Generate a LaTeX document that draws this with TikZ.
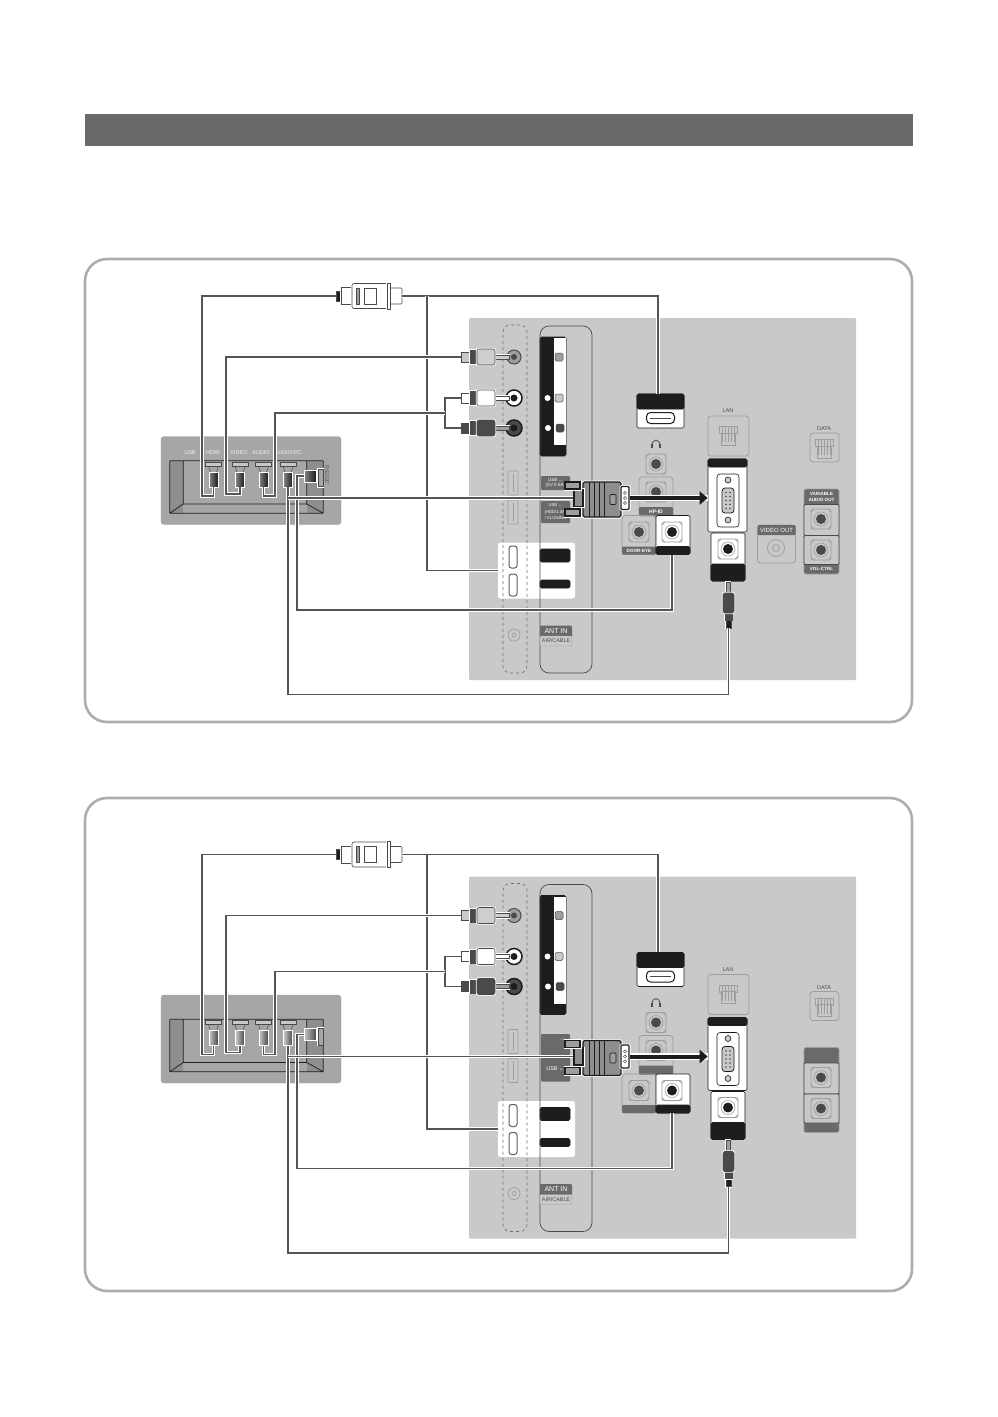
\documentclass[tikz,border=0pt]{standalone}
\usepackage{fontspec}
\setmainfont{Liberation Sans}
\usetikzlibrary{arrows.meta,positioning,calc}
\definecolor{barfill}{HTML}{6B6868}
\definecolor{frameline}{HTML}{ADADAD}
\definecolor{backfill}{HTML}{C9C9C9}
\definecolor{tvfill}{HTML}{A6A6A6}
\definecolor{tvside}{HTML}{8E8E8E}
\definecolor{inkgray}{HTML}{4A4A4A}
\definecolor{wirecol}{HTML}{555555}
\definecolor{stripcol}{HTML}{6A6A6A}
\definecolor{softline}{HTML}{9E9E9E}
\definecolor{inkblack}{HTML}{1E1C1C}

% one square socket with its four corner cuts
\newcommand{\sqjack}[5]{%
  \node[jackbase, fill=#4] (#1) at (#2,#3) {};
  \foreach \dx/\dy in {-1/-1,1/-1,-1/1,1/1}
    \draw[softline, line width=0.7pt] ($(#1)+(7*\dx,10*\dy)$) -- ($(#1)+(10*\dx,7*\dy)$);
  \node[jackring, fill=#4] (#1-ring) at (#1) {};
  \node[jackhole, fill=#5] (#1-hole) at (#1) {};
}
% network socket glyph
\newcommand{\rjglyph}[3]{%
  \node[rjtop] (#1) at (#2,#3) {};
  \node[rjfoot] (#1-foot) at ($(#1)+(0,9)$) {};
  \foreach \dx in {-6,-3,0,3,6}
    \draw[softline, line width=0.7pt] ($(#1)+(\dx,-3)$) -- ($(#1)+(\dx,12)$);
}
% one coloured cinch plug, running in from the left
\newcommand{\cinchplug}[5]{%
  \node[plugpart, fill=#5, minimum width=14, minimum height=4] (#1-pin) at (502,#2) {};
  \node[plugpart, fill=#3, minimum width=9, minimum height=10] (#1-tip) at (465.5,#2) {};
  \node[plugpart, fill=inkgray, minimum width=7, minimum height=13] (#1-band) at (473.5,#2) {};
  \node[plugpart, fill=#4, rounded corners=2, minimum width=18, minimum height=16] (#1) at (486,#2) {};
}
% the plug standing in one socket of the set
\newcommand{\setplug}[2]{%
  \node[barpart] (#1-bar) at (#2,464) {};
  \draw[inkgray, line width=0.5pt] ($(#1-bar.south)+(-5,0)$) -- ($(#2,472)+(-3,0)$)
    ($(#1-bar.south)+(5,0)$) -- ($(#2,472)+(3,0)$);
  \node[setplugbody] (#1) at (#2,479.5) {};
}

% --- sockets, boxes and everything under the cables ------------------------------------------
\newcommand{\rearports}{%
  \node[backpanel] (back) at (662.5,499) {};

  % the side jacks
  \node[circle, draw=inkgray, fill=softline, minimum size=14, inner sep=0, line width=1pt] (jackA) at (514,357) {};
  \node[circle, fill=inkgray, minimum size=6, inner sep=0] (jackAhole) at (514,357) {};
  \node[circle, draw=inkblack, fill=white, minimum size=16, inner sep=0, line width=1.5pt] (jackB) at (514,398) {};
  \node[circle, fill=inkblack, minimum size=7, inner sep=0] (jackBhole) at (514,398) {};
  \node[circle, draw=inkblack, fill=inkgray, minimum size=16, inner sep=0, line width=1.5pt] (jackC) at (514,428) {};
  \node[circle, fill=inkblack, minimum size=7, inner sep=0] (jackChole) at (514,428) {};

  % the black strip
  \node[blackbox, minimum width=26, minimum height=119] (strip) at (553,396.5) {};
  \node[whitepart, minimum width=12, minimum height=107] (stripwhite) at (560,391.5) {};
  \node[stud, fill=softline] (studA) at (559,357) {};
  \node[stud, fill=backfill] (studB) at (559,398) {};
  \node[stud, fill=inkgray] (studC) at (560,428) {};
  \node[circle, fill=white, minimum size=6, inner sep=0] (dotB) at (547.5,398) {};
  \node[circle, fill=white, minimum size=6, inner sep=0] (dotC) at (548,428) {};

  \node[usbslot] (usbA) at (513,483) {};
  \node[usbslot] (usbB) at (513,512) {};
  \draw[softline, line width=0.7pt] (usbA.north) ++(0,3) -- (usbA.south |- 0,492)
    (usbB.north) ++(0,3) -- (usbB.south |- 0,521);
  \node[circle, draw=softline, minimum size=12, inner sep=0, line width=0.7pt] (antjack) at (514,635) {};
  \node[circle, draw=softline, minimum size=4, inner sep=0, line width=0.7pt] (antdot) at (514,635) {};

  % the white block with the two ports
  \node[whitepart, rounded corners=2.5, minimum width=77, minimum height=56] (hdmiback) at (536.5,570.5) {};
  \node[hdmivert] (hdmiA) at (513,557) {};
  \node[hdmivert] (hdmiB) at (513,585) {};
  \node[blackbox, minimum width=30, minimum height=13] (barA) at (555,555.5) {};
  \node[blackbox, minimum width=30, minimum height=8] (barB) at (555,584) {};
  \node[sideslot] (slot) at (515,499) {};
  \node[mainslot] (main) at (566,499.5) {};

  % aerial labels
  \node[labelbox, fill=stripcol, minimum width=32, minimum height=11] (antbox) at (556,631) {};
  \node[labelbox, draw=softline, fill=backfill, minimum width=32, minimum height=10] (cablebox) at (556,641) {};
  \node[font=\fontsize{7}{7}\selectfont, text=white, inner sep=0] (anttext) at (556,631) {ANT IN};
  \node[font=\fontsize{5.4}{5.4}\selectfont, text=inkgray, inner sep=0] (cabletext) at (556,641) {AIR/CABLE};

  % top output block
  \node[blackbox, fill=white, draw=inkblack, minimum width=47, minimum height=34] (hdmibox) at (660.5,411) {};
  \node[blackbox, minimum width=47, minimum height=15] (hdmihead) at (660.5,401.5) {};
  \node[draw=inkblack, fill=white, rounded corners=4, minimum width=28, minimum height=11, inner sep=0, line width=1pt] (hdmiport) at (660.5,418) {};
  \draw[inkgray, line width=0.7pt] ($(hdmiport.west)+(4,0)$) -- ($(hdmiport.east)+(-4,0)$);

  % headphone and the sockets around it
  \draw[inkgray, line width=0.8pt] (652,446) .. controls (652,438) and (660,438) .. (660,446);
  \node[fill=inkgray, minimum width=1.8, minimum height=4, inner sep=0] (earL) at (652,446) {};
  \node[fill=inkgray, minimum width=1.8, minimum height=4, inner sep=0] (earR) at (660,446) {};
  \sqjack{phonejack}{656}{464}{backfill}{inkgray}
  \node[softbox, minimum width=34, minimum height=39] (hpbox) at (656,496.5) {};
  \node[labelbox, fill=stripcol, minimum width=34, minimum height=9] (hpstrip) at (656,511.5) {};
  \sqjack{hpjack}{656}{492}{backfill}{inkgray}
  \node[softbox, minimum width=34, minimum height=39] (doorbox) at (639,535) {};
  \node[labelbox, fill=stripcol, minimum width=34, minimum height=8] (doorstrip) at (639,550.5) {};
  \sqjack{doorjack}{639}{532}{backfill}{inkgray}
  \node[blackbox, fill=white, minimum width=34, minimum height=39] (rsbox) at (673,535) {};
  \node[blackbox, minimum width=34, minimum height=8] (rsstrip) at (673,550.5) {};
  \sqjack{rsjack}{672}{532}{white}{inkblack}

  % the PC block
  \node[softbox, minimum width=41, minimum height=40] (lanbox) at (728.5,436) {};
  \rjglyph{langlyph}{728}{430}
  \node[blackbox, fill=white, minimum width=39, minimum height=73] (pcbox) at (727.5,495.5) {};
  \node[blackbox, minimum width=39, minimum height=8] (pchead) at (727.5,463) {};
  \node[draw=inkblack, rounded corners=3, minimum width=22, minimum height=53, inner sep=0, line width=0.6pt] (pcinner) at (728,500.5) {};
  \node[draw=inkblack, fill=backfill, rounded corners=3, minimum width=12, minimum height=25, inner sep=0, line width=0.8pt] (dsub) at (728,500.5) {};
  \foreach \dy in {-8,-4,0,4,8}
    \fill[inkgray] ($(dsub)+(-2,\dy)$) circle[radius=0.8] ($(dsub)+(2,\dy)$) circle[radius=0.8];
  \node[circle, draw=inkblack, fill=backfill, minimum size=6, inner sep=0, line width=0.6pt] (screwA) at (728,480) {};
  \node[circle, draw=inkblack, fill=backfill, minimum size=6, inner sep=0, line width=0.6pt] (screwB) at (728,520) {};
  \node[blackbox, fill=white, minimum width=34, minimum height=48] (audiobox) at (728,557) {};
  \node[blackbox, minimum width=34, minimum height=17] (audiostrip) at (728,572.5) {};
  \sqjack{audiojack}{728}{549}{white}{inkblack}

  % the data socket
  \node[softbox, minimum width=29, minimum height=29] (databox) at (824.5,447.5) {};
  \rjglyph{dataglyph}{824}{443}
  \node[font=\fontsize{5.5}{5.5}\selectfont, text=inkgray, inner sep=0] (lantext) at (728,411) {LAN};
  \node[font=\fontsize{5.5}{5.5}\selectfont, text=inkgray, inner sep=0] (datatext) at (824,429) {DATA};

  % the two right sockets
  \node[blackbox, draw=softline, fill=stripcol, minimum width=35, minimum height=85] (sideback) at (821.5,531.5) {};
  \node[softbox, fill=backfill, draw=inkgray, minimum width=35, minimum height=31, rounded corners=1] (sideA) at (821.5,520) {};
  \node[softbox, fill=backfill, draw=inkgray, minimum width=35, minimum height=29, rounded corners=1] (sideB) at (821.5,550) {};
  \sqjack{sidejackA}{821}{519}{backfill}{inkgray}
  \sqjack{sidejackB}{821}{550}{backfill}{inkgray}

  % --- the set on the left
  \node[setbox] (setbody) at (251,480.5) {};
  \node[setside] (sideL) at (176.5,487) {};
  \node[setside, minimum width=16] (sideR) at (315,487) {};
  \draw[inkblack, line width=0.7pt] (sideL.north west) -- (sideR.north east)
    (sideL.south west) -- (sideR.south east)
    (sideL.south west) -- ($(sideL.east)+(0,17)$) -- ($(sideR.west)+(0,17)$) -- (sideR.south east)
    (sideL.north west) -- (sideL.south west) (sideR.north east) -- (sideR.south east)
    (sideL.north east) -- ($(sideL.east)+(0,17)$) (sideR.north west) -- ($(sideR.west)+(0,17)$);
}

% --- plugs and cables on top -------------------------------------------------------------------
\newcommand{\rearcables}{%
  \setplug{setA}{213.5}
  \setplug{setB}{240}
  \setplug{setC}{263.5}
  \setplug{setD}{288}
  \node[plugpart, fill=tvfill, minimum width=5, minimum height=17] (rsbar) at (320.5,478) {};
  \node[setplugbody, minimum width=12, minimum height=12] (rsplug) at (310,476) {};

  % the cinch plugs
  \cinchplug{cinchA}{357}{backfill}{softline!50!white}{softline!50!white}
  \cinchplug{cinchB}{398}{white}{white}{white}
  \cinchplug{cinchC}{428}{inkgray}{inkgray}{softline}

  % the wide plug at the top
  \node[plugpart, fill=white, rounded corners=1, minimum width=14, minimum height=16] (mainplugtail) at (395,296) {};
  \node[plugpart, fill=inkblack, minimum width=6, minimum height=10] (mainplugtip) at (339,296) {};
  \node[plugpart, fill=white, minimum width=11, minimum height=17] (mainplugneck) at (347,296) {};
  \node[plugpart, fill=white, rounded corners=2, minimum width=36, minimum height=25] (mainplug) at (370,296) {};
  \node[plugpart, fill=white, minimum width=3, minimum height=26] (mainplugring) at (388.5,296) {};
  \node[plugpart, fill=softline, minimum width=3, minimum height=16] (mainplugbar) at (358,296) {};
  \node[plugpart, fill=white, minimum width=12, minimum height=16] (mainplugwin) at (370,296) {};

  % the cables
  \draw[wire] (mainplugtip.west) -| (202,496) -| (setA.south);
  \draw[wire] (mainplugtail.east) -| ($(hdmihead.north)+(-2.5,0)$);
  \draw[wire] (427,296) |- (hdmiback.west);
  \draw[wire] (cinchA-tip.west) -| (226,494) -| (setB.south);
  \draw[wire] (cinchB-tip.west) -- (445,398) |- (cinchC-tip.west);
  \draw[wire] (445,413) -| (275,496) -| (setC.south);
  \draw[wire] (rsplug.west) -| (297,610) -| (rsjack |- rsstrip.south);

  % the plug below the PC block
  \node[plugpart, fill=softline, minimum width=4, minimum height=11] (audiopin) at (728,587.5) {};
  \node[plugpart, fill=inkblack, minimum width=5, minimum height=8] (audiotail) at (728.5,624) {};
  \node[plugpart, fill=inkgray, minimum width=7, minimum height=7] (audiocollar) at (728.5,616.5) {};
  \node[plugpart, fill=inkgray, rounded corners=1.5, minimum width=11, minimum height=20] (audioplug) at (728.5,603) {};
  \draw[wire] (setD.south) -- ++(0,207) -| (audiotail.south);

  % the thick arrow and the video plug
  \node[vgapart, minimum width=38, minimum height=35, rounded corners=1.5] (vga) at (602,499.5) {};
  \node[vgapart, minimum width=9, minimum height=17] (vgaleft) at (578.5,498) {};
  \node[vgapart, minimum width=15, minimum height=7, fill=softline] (vgascrewA) at (572.5,485.5) {};
  \node[vgapart, minimum width=15, minimum height=7, fill=softline] (vgascrewB) at (572.5,512.5) {};
  \foreach \sx in {589,594,599,604}
    \draw[inkblack, line width=0.9pt] (\sx,482) -- (\sx,517);
  \node[draw=inkblack, fill=softline, rounded corners=1, minimum width=6, minimum height=10, inner sep=0, line width=0.6pt] (vgasquare) at (613,499.5) {};
  \node[vgapart, fill=white, rounded corners=1, minimum width=8, minimum height=23] (vgahead) at (625,498) {};
  \foreach \dy in {-5,0,5}
    \draw[inkgray, line width=0.5pt] ($(vgahead)+(0,\dy)$) circle[radius=1.6];
  \draw[wire] (setD.south |- vgaleft) -- (vgaleft.west);
  \draw[bigarrow] (vgahead.east) -- (pcbox.west |- vgahead);
}

\begin{document}
\begin{tikzpicture}[
  x=1pt, y=-1pt,
  font=\fontsize{5.5}{5.5}\selectfont,
  headbar/.style   = {fill=barfill, minimum width=828, minimum height=32, inner sep=0},
  frame/.style     = {draw=frameline, line width=2.6pt, rounded corners=22},
  backpanel/.style = {fill=backfill, rounded corners=1, minimum width=387, minimum height=362, inner sep=0},
  sideslot/.style  = {draw=softline!70!black, dashed, rounded corners=7, line width=0.6pt, minimum width=24, minimum height=348, inner sep=0},
  mainslot/.style  = {draw=inkgray, rounded corners=9, line width=0.7pt, minimum width=52, minimum height=347, inner sep=0},
  blackbox/.style  = {draw=inkblack, fill=inkblack, rounded corners=1.5, inner sep=0, line width=0.6pt},
  whitepart/.style = {fill=white, inner sep=0},
  softbox/.style   = {draw=softline, rounded corners=3, inner sep=0, line width=0.8pt},
  labelbox/.style  = {rounded corners=1, inner sep=0},
  stud/.style      = {draw=inkgray, rounded corners=1.5, minimum size=8, inner sep=0, line width=0.5pt},
  usbslot/.style   = {draw=softline, minimum width=10, minimum height=24, rounded corners=1, inner sep=0, line width=0.7pt},
  hdmivert/.style  = {draw=softline!60!black, rounded corners=2.5, minimum width=8, minimum height=22, inner sep=0, line width=1pt},
  jackbase/.style  = {draw=softline, rounded corners=2, minimum size=20, inner sep=0, line width=0.7pt},
  jackring/.style  = {circle, draw=softline, minimum size=14, inner sep=0, line width=0.6pt},
  jackhole/.style  = {circle, minimum size=10, inner sep=0},
  rjtop/.style     = {draw=softline, fill=backfill, minimum width=18, minimum height=7, inner sep=0, line width=0.7pt},
  rjfoot/.style    = {draw=softline, fill=backfill, minimum width=14, minimum height=12, inner sep=0, line width=0.7pt},
  plugpart/.style  = {draw=inkgray, inner sep=0, line width=0.6pt, preaction={draw=white, line width=2.4pt}},
  barpart/.style   = {draw=inkgray, fill=barlight, minimum width=16, minimum height=4, inner sep=0, line width=0.4pt},
  setbox/.style    = {fill=tvfill, draw=softline, rounded corners=3, minimum width=180, minimum height=88, inner sep=0},
  setside/.style   = {fill=tvside, minimum width=13, minimum height=52, inner sep=0},
  setplugbody/.style = {draw=white, left color=plugleft, right color=plugright, minimum width=9, minimum height=15, inner sep=0, line width=0.7pt},
  vgapart/.style   = {draw=inkblack, fill=tvside, inner sep=0, line width=1.1pt, preaction={draw=white, line width=3pt}},
  wire/.style      = {draw=wirecol, line width=1.3pt, preaction={draw=white, line width=3.2pt}},
  bigarrow/.style  = {draw=inkblack, line width=4pt, -{Triangle[length=8pt,width=13pt]}, preaction={draw=white, line width=6.5pt, -}},
  whitelabel/.style = {text=white, inner sep=0, font=\fontsize{5.5}{5.5}\selectfont},
]
\useasboundingbox (0,0) rectangle (998,1417);

\node[headbar] (header) at (499,130) {};
\node[frame, minimum width=827, minimum height=463, inner sep=0] (frameup) at (498.5,490.5) {};
\node[frame, minimum width=827, minimum height=493, inner sep=0] (framelo) at (498.5,1044.5) {};

% --- the first setting, all labels printed -------------------------------------------------------
\colorlet{barlight}{backfill}
\colorlet{plugleft}{softline!70!inkgray}
\colorlet{plugright}{inkblack}
\begin{scope}[name prefix=up-]
  \rearports
  \node[labelbox, fill=stripcol, minimum width=29, minimum height=14] (usbtextA) at (555.5,483) {};
  \node[labelbox, fill=stripcol, minimum width=29, minimum height=22] (usbtextB) at (555.5,512) {};
  \node[whitelabel, align=center, font=\fontsize{4.5}{5}\selectfont] (usbwordsA) at (555.5,483) {USB ←\\(5V 0.5A)};
  \node[whitelabel, align=center, font=\fontsize{4.2}{6.5}\selectfont] (usbwordsB) at (555.5,512) {USB ←\\(HDD/1.0A)\\/ CLONING};
  \node[whitelabel, font=\bfseries\fontsize{5}{5}\selectfont] (hptext) at (656,511.5) {HP-ID};
  \node[whitelabel, font=\bfseries\fontsize{4.6}{5}\selectfont] (doortext) at (639,550.5) {DOOR-EYE};
  \node[softbox, draw=softline, minimum width=38, minimum height=38] (videobox) at (776.5,544) {};
  \node[labelbox, fill=stripcol, minimum width=38, minimum height=10] (videohead) at (776.5,530) {};
  \node[whitelabel, font=\fontsize{6}{6}\selectfont] (videotext) at (776.5,530) {VIDEO OUT};
  \node[circle, draw=softline, minimum size=17, inner sep=0, line width=0.8pt] (videojack) at (776,548) {};
  \node[circle, draw=softline, minimum size=7, inner sep=0, line width=0.8pt] (videohole) at (776,548) {};
  \node[whitelabel, align=center, font=\bfseries\fontsize{4.6}{6}\selectfont] (sidetextA) at (821.5,497) {VARIABLE\\AUDIO OUT};
  \node[whitelabel, font=\bfseries\fontsize{4.6}{5}\selectfont] (sidetextB) at (821.5,569) {VOL-CTRL};
  \foreach \lname/\lx/\ltext in {labUSB/190/USB, labHDMI/213/HDMI, labVIDEO/239/VIDEO, labAUDIO/261/AUDIO, labPC/288/{AUDIO/PC}}
    \node[text=white!85!tvfill, inner sep=0] (\lname) at (\lx,453) {\ltext};
  \node[text=inkgray, inner sep=0, rotate=-90, font=\fontsize{5}{5}\selectfont] (labRS) at (327,475) {RS232C};
  \rearcables
\end{scope}

% --- the second setting, same wiring with the labels blanked ----------------------------------
\colorlet{barlight}{backfill}
\colorlet{plugleft}{backfill}
\colorlet{plugright}{inkgray}
\begin{scope}[name prefix=lo-, shift={(0,558.5)}]
  \rearports
  \node[labelbox, fill=stripcol, minimum width=29, minimum height=21] (usbtextA) at (555.5,486) {};
  \node[labelbox, fill=stripcol, minimum width=29, minimum height=26] (usbtextB) at (555.5,510) {};
  \node[whitelabel] (usbwordsA) at (563,481) {←};
  \node[whitelabel] (usbwordsB) at (555.5,510) {USB ←};
  \rearcables
\end{scope}
\end{tikzpicture}
\end{document}
